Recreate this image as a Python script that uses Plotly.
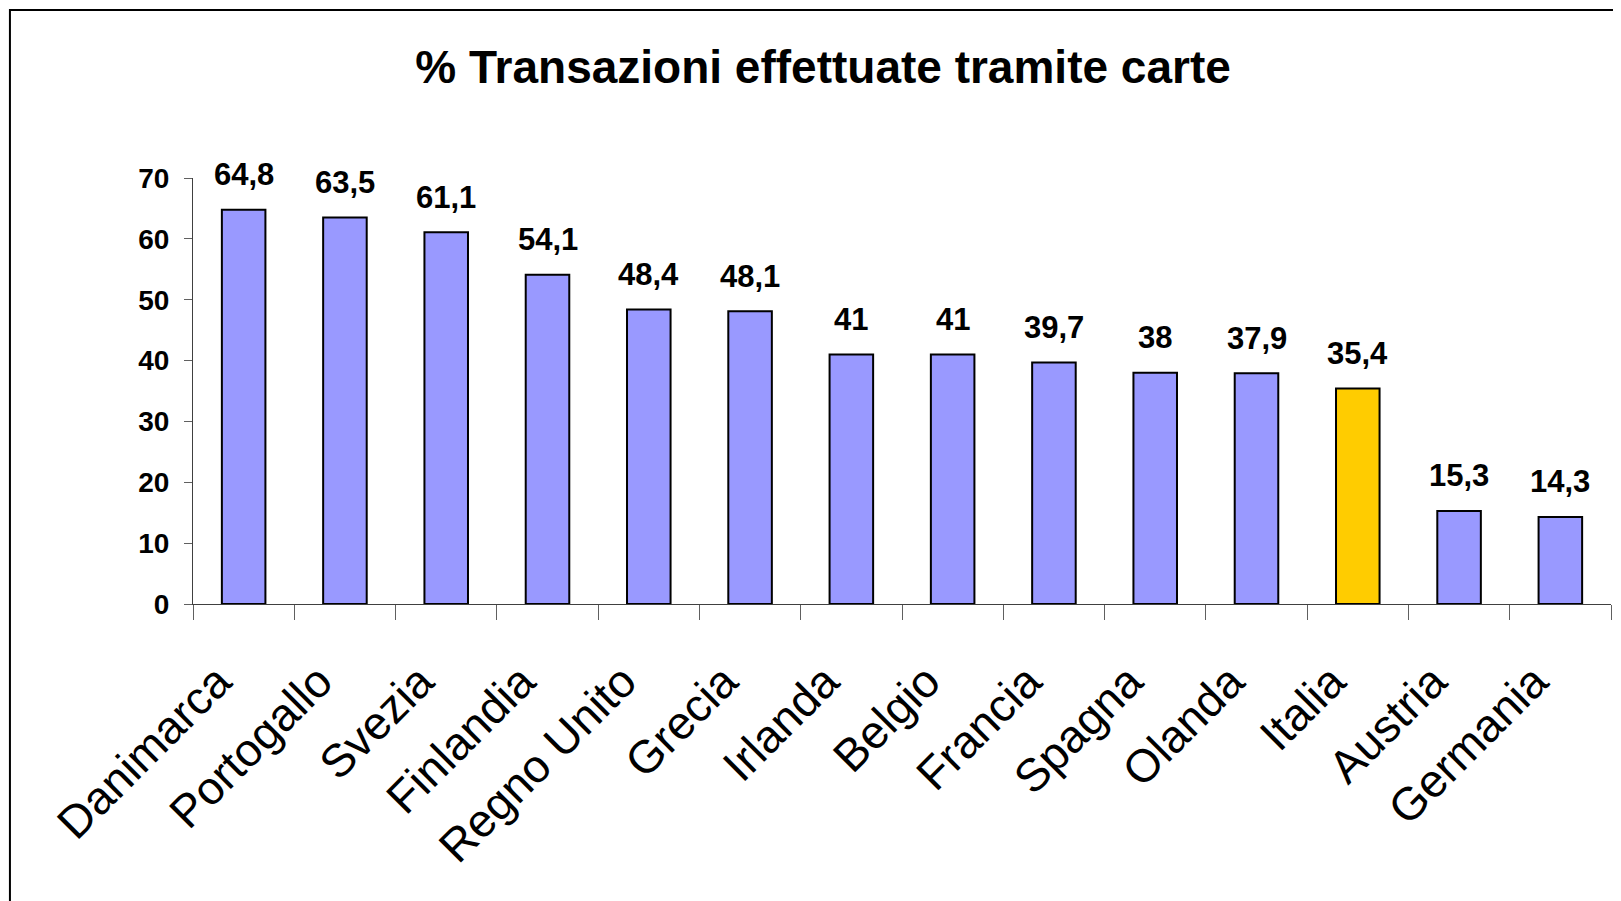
import plotly.graph_objects as go

countries = ["Danimarca", "Portogallo", "Svezia", "Finlandia", "Regno Unito", "Grecia",
             "Irlanda", "Belgio", "Francia", "Spagna", "Olanda", "Italia", "Austria", "Germania"]
values = [64.8, 63.5, 61.1, 54.1, 48.4, 48.1, 41, 41, 39.7, 38, 37.9, 35.4, 15.3, 14.3]
highlight = "Italia"
title_text = "% Transazioni effettuate tramite carte"

FONT = "Liberation Sans, Arial, sans-serif"
bar_colors = ["#FFCC00" if c == highlight else "#9999FF" for c in countries]
labels = [f"{v:g}".replace(".", ",") for v in values]

fig = go.Figure()
fig.add_trace(go.Bar(
    x=countries, y=values,
    marker=dict(color=bar_colors, line=dict(color="black", width=2)),
    hoverinfo="x+y",
))

for c, v, t in zip(countries, values, labels):
    fig.add_annotation(x=c, y=v, text=t, showarrow=False, xref="x", yref="y",
                       yanchor="middle", yshift=35,
                       font=dict(family=FONT, size=31, color="black", weight="bold"))

# outer frame (partial, like the original clipped image)
fig.add_shape(type="rect", xref="paper", yref="paper",
              x0=-0.1291, x1=1.2, y0=-1.0, y1=1.3944,
              line=dict(color="black", width=2), fillcolor="rgba(0,0,0,0)", layer="above")

fig.update_layout(
    width=1613, height=893,
    margin=dict(l=185, r=10, t=170, b=297),
    paper_bgcolor="white", plot_bgcolor="white",
    showlegend=False,
    bargap=0.57,
    title=dict(text=title_text, x=0.5053, xanchor="center", xref="container",
               y=0.934, yanchor="middle", yref="container",
               font=dict(family=FONT, size=46, color="black", weight="bold")),
    xaxis=dict(
        type="category", tickangle=-45, tickson="boundaries",
        ticks="outside", ticklen=15, tickcolor="#606060", tickwidth=1,
        showline=True, linecolor="#404040", linewidth=1,
        showgrid=False, zeroline=False,
        tickfont=dict(family=FONT, size=46, color="black"),
        ticklabelstandoff=31, ticklabelshift=-26,
    ),
    yaxis=dict(
        range=[0, 70], dtick=10, tick0=0,
        ticks="outside", ticklen=8, tickcolor="#606060", tickwidth=1,
        showline=True, linecolor="#404040", linewidth=1,
        showgrid=False, zeroline=False,
        tickfont=dict(family=FONT, size=28, color="black", weight="bold"),
        ticklabelstandoff=9,
    ),
)

fig.write_html("out.html")
